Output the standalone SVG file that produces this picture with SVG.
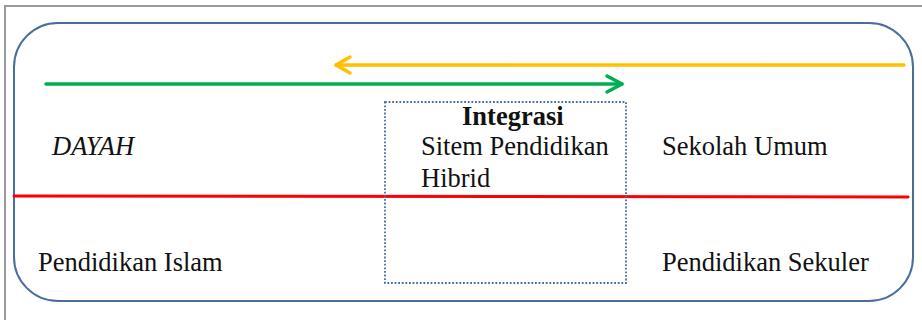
<svg xmlns="http://www.w3.org/2000/svg" width="922" height="320" viewBox="0 0 922 320">
<style>
.t{font-family:"Liberation Serif","Times New Roman",serif;font-size:26.5px;fill:#111}
.b{font-weight:bold}
.i{font-style:italic}
</style>
<rect width="922" height="320" fill="#fff"/>
<path d="M5,320 V6 H922" fill="none" stroke="#999" stroke-width="2"/>
<g id="frame">
<rect x="14" y="23" width="899" height="278" rx="44" ry="44" fill="none" stroke="#4A6E9C" stroke-width="2"/>
</g>
<g id="connectors" fill="none" stroke-width="3.5" stroke-linecap="round" stroke-linejoin="round">
<path d="M904,65 H336" stroke="#FFC000"/>
<path d="M350,57 L336,65 L350,73" stroke="#FFC000"/>
<path d="M46,84 H622" stroke="#00B050"/>
<path d="M607,76 L622,84 L607,92" stroke="#00B050"/>
<path d="M14,196 L908,197" stroke="#FF0000" stroke-width="3"/>
</g>
<g id="integrasi">
<rect x="385" y="102" width="241" height="181" fill="none" stroke="#4A6E9C" stroke-width="1.8" stroke-dasharray="1.8,1.8"/>
<text class="t b" x="462" y="125">Integrasi</text>
<text class="t" x="421" y="155">Sitem Pendidikan</text>
<text class="t" x="421" y="187">Hibrid</text>
</g>
<g id="dayah"><text class="t i" x="52" y="155">DAYAH</text></g>
<g id="sekolah"><text class="t" x="662" y="155">Sekolah Umum</text></g>
<g id="islam"><text class="t" x="38" y="271">Pendidikan Islam</text></g>
<g id="sekuler"><text class="t" x="662" y="271">Pendidikan Sekuler</text></g>
</svg>
